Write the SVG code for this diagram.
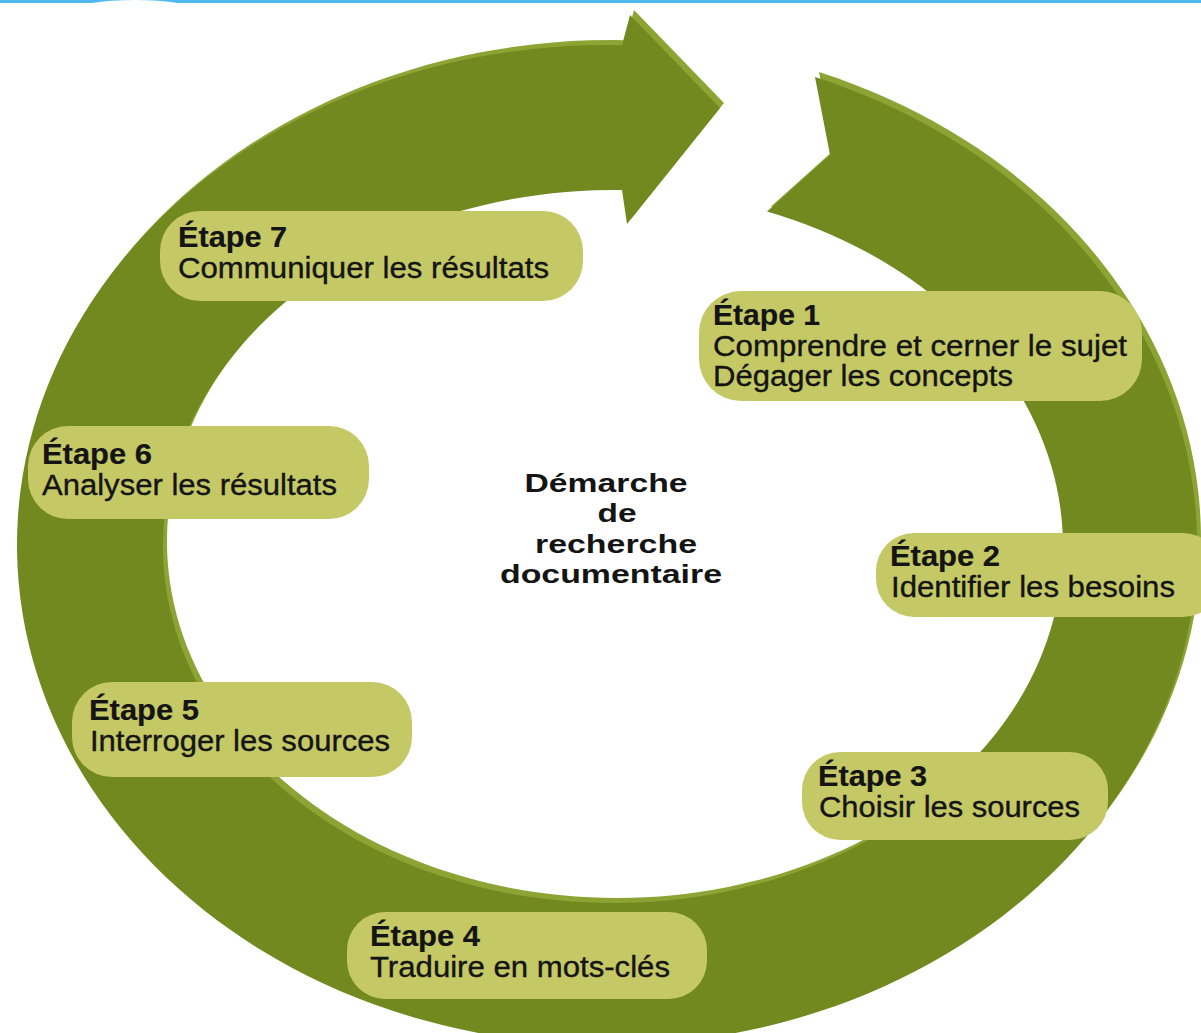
<svg xmlns="http://www.w3.org/2000/svg" width="1201" height="1033" viewBox="0 0 1201 1033">
<defs>
<style>
.box{fill:#c4c865;}
.t{font-family:"Liberation Sans",Arial,sans-serif;font-size:29px;fill:#141414;stroke:#141414;stroke-width:0.35;}
.b{font-weight:bold;stroke-width:0.2;}
.c{font-family:"Liberation Sans",Arial,sans-serif;font-size:25px;font-weight:bold;fill:#141414;text-anchor:middle;}
</style>
<path id="ring" d="M 815 77.10 A 590 500 0 1 1 622 45.16 L 630 15 L 720 108 L 627 224 L 622 190.07 A 450 356.5 0 1 0 767 211.53 L 830 155 Z"/>
</defs>
<rect x="0" y="0" width="1201" height="1033" fill="#ffffff"/>
<path d="M0 0 H1201 V3 H0 Z" fill="#4fb8ee"/>
<path d="M92 3 Q110 0 135 0 Q160 0 178 3 Z" fill="#ffffff"/>
<g id="connectors">
<use href="#ring" fill="#8da435" transform="translate(4,-5)"/>
<use href="#ring" fill="#72891f"/>
</g>
<g id="step7">
<rect class="box" x="160" y="211" width="423" height="90" rx="40"/>
<text class="t b" x="178" y="247" textLength="109" lengthAdjust="spacingAndGlyphs">Étape 7</text>
<text class="t" x="178" y="278" textLength="371" lengthAdjust="spacingAndGlyphs">Communiquer les résultats</text>
</g>
<g id="step1">
<rect class="box" x="699" y="291" width="443" height="110" rx="42"/>
<text class="t b" x="713" y="325" textLength="107" lengthAdjust="spacingAndGlyphs">Étape 1</text>
<text class="t" x="713" y="356" textLength="414" lengthAdjust="spacingAndGlyphs">Comprendre et cerner le sujet</text>
<text class="t" x="713" y="386" textLength="300" lengthAdjust="spacingAndGlyphs">Dégager les concepts</text>
</g>
<g id="step6">
<rect class="box" x="28" y="426" width="341" height="93" rx="40"/>
<text class="t b" x="42" y="464" textLength="110" lengthAdjust="spacingAndGlyphs">Étape 6</text>
<text class="t" x="42" y="495" textLength="295" lengthAdjust="spacingAndGlyphs">Analyser les résultats</text>
</g>
<g id="step2">
<rect class="box" x="876" y="533" width="345" height="84" rx="38"/>
<text class="t b" x="890" y="566" textLength="110" lengthAdjust="spacingAndGlyphs">Étape 2</text>
<text class="t" x="891" y="597" textLength="284" lengthAdjust="spacingAndGlyphs">Identifier les besoins</text>
</g>
<g id="step5">
<rect class="box" x="72" y="682" width="340" height="95" rx="40"/>
<text class="t b" x="89" y="720" textLength="110" lengthAdjust="spacingAndGlyphs">Étape 5</text>
<text class="t" x="90" y="751" textLength="300" lengthAdjust="spacingAndGlyphs">Interroger les sources</text>
</g>
<g id="step3">
<rect class="box" x="802" y="752" width="306" height="88" rx="38"/>
<text class="t b" x="818" y="786" textLength="109" lengthAdjust="spacingAndGlyphs">Étape 3</text>
<text class="t" x="819" y="817" textLength="261" lengthAdjust="spacingAndGlyphs">Choisir les sources</text>
</g>
<g id="step4">
<rect class="box" x="347" y="912" width="360" height="87" rx="38"/>
<text class="t b" x="370" y="946" textLength="110" lengthAdjust="spacingAndGlyphs">Étape 4</text>
<text class="t" x="370" y="977" textLength="300" lengthAdjust="spacingAndGlyphs">Traduire en mots-clés</text>
</g>
<g id="title">
<text class="c" x="606" y="492" textLength="163" lengthAdjust="spacingAndGlyphs">Démarche</text>
<text class="c" x="617" y="522" textLength="39" lengthAdjust="spacingAndGlyphs">de</text>
<text class="c" x="616" y="553" textLength="162" lengthAdjust="spacingAndGlyphs">recherche</text>
<text class="c" x="611" y="583" textLength="222" lengthAdjust="spacingAndGlyphs">documentaire</text>
</g>
</svg>
